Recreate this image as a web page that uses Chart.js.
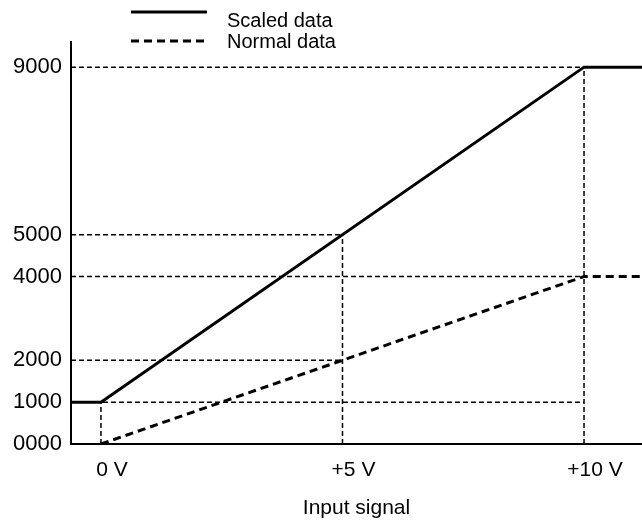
<!DOCTYPE html>
<html>
<head>
<meta charset="utf-8">
<title>Scaled data vs normal data</title>
<script src="https://cdn.jsdelivr.net/npm/chart.js@4"></script>
<style>
  html, body { margin: 0; padding: 0; background: #fff; }
  #wrap { width: 642px; height: 523px; }
</style>
</head>
<body>
<div id="wrap"><canvas id="scalingChart"></canvas></div>
<script>
// Axis ranges (input signal in V, converted value)
const xRange = [-0.62, 11.2];
const yRange = [0, 9600];

// Tick positions and labels
const xTicks = [0, 5, 10];
const xTickLabels = ['0 V', '+5 V', '+10 V'];
const yTicks = [0, 1000, 2000, 4000, 5000, 9000];
const yTickLabels = ['0000', '1000', '2000', '4000', '5000', '9000'];

// Series
const seriesNames = ['Scaled data', 'Normal data'];
const scaledX = [-0.62, 0, 10, 11.2];
const scaledY = [1000, 1000, 9000, 9000];
const normalX = [0, 10, 11.2];
const normalY = [0, 4000, 4000];

// Thin dashed helper lines
// horizontal: value level -> voltage where it stops
const hGuideLevels = [1000, 2000, 4000, 5000, 9000];
const hGuideEnds = [10, 5, 10, 5, 10];
// vertical: voltage -> value where it stops
const vGuideVolts = [0, 5, 10];
const vGuideTops = [1000, 5000, 9000];

const FONT = '"Liberation Sans", Arial, Helvetica, sans-serif';

document.addEventListener('DOMContentLoaded', function() {
    initChart();
});

function zip(xs, ys) {
    return xs.map((x, i) => ({ x: x, y: ys[i] }));
}

function buildGuides() {
    const guides = [];
    hGuideLevels.forEach((level, i) => {
        guides.push(zip([xRange[0], hGuideEnds[i]], [level, level]));
    });
    vGuideVolts.forEach((v, i) => {
        guides.push(zip([v, v], [yRange[0], vGuideTops[i]]));
    });
    return guides.map(pts => ({
        data: pts,
        borderColor: '#000',
        borderWidth: 1.5,
        borderDash: [5, 3],
        pointRadius: 0,
        order: 1
    }));
}

// Legend drawn above the plot, line sample + label
const legendPlugin = {
    id: 'topLegend',
    afterDraw(chart) {
        const ctx = chart.ctx;
        const rows = [
            { y: 12, dash: [], text: seriesNames[0] },
            { y: 41, dash: [8, 5], text: seriesNames[1] }
        ];
        ctx.save();
        rows.forEach(row => {
            ctx.beginPath();
            ctx.setLineDash(row.dash);
            ctx.lineWidth = 3;
            ctx.strokeStyle = '#000';
            ctx.moveTo(131, row.y);
            ctx.lineTo(207, row.y);
            ctx.stroke();
        });
        ctx.setLineDash([]);
        ctx.fillStyle = '#000';
        ctx.font = '20px ' + FONT;
        ctx.textBaseline = 'alphabetic';
        ctx.fillText(seriesNames[0], 227, 27);
        ctx.fillText(seriesNames[1], 227, 48);
        ctx.restore();
    }
};

function initChart() {
    const ctx = document.getElementById('scalingChart');

    const datasets = [
        {
            label: seriesNames[0],
            data: zip(scaledX, scaledY),
            borderColor: '#000',
            borderWidth: 3,
            pointRadius: 0,
            order: 0
        },
        {
            label: seriesNames[1],
            data: zip(normalX, normalY),
            borderColor: '#000',
            borderWidth: 3,
            borderDash: [8, 5],
            pointRadius: 0,
            order: 0
        }
    ].concat(buildGuides());

    new Chart(ctx, {
        type: 'line',
        data: { datasets: datasets },
        options: {
            responsive: true,
            maintainAspectRatio: false,
            animation: false,
            layout: { padding: { top: 42, left: 0, right: 0, bottom: 0 } },
            plugins: {
                legend: { display: false },
                tooltip: { enabled: false }
            },
            scales: {
                x: {
                    type: 'linear',
                    min: xRange[0],
                    max: xRange[1],
                    grid: { display: false, drawTicks: false },
                    border: { display: true, color: '#000', width: 2 },
                    afterBuildTicks: axis => { axis.ticks = xTicks.map(v => ({ value: v })); },
                    afterFit: axis => { axis.height = 79; },
                    ticks: {
                        color: '#000',
                        font: { family: FONT, size: 21 },
                        padding: 14,
                        labelOffset: 11,
                        maxRotation: 0,
                        callback: value => xTickLabels[xTicks.indexOf(value)]
                    },
                    title: {
                        display: true,
                        text: 'Input signal',
                        color: '#000',
                        font: { family: FONT, size: 21 },
                        padding: { top: 0, bottom: 2 }
                    }
                },
                y: {
                    type: 'linear',
                    min: yRange[0],
                    max: yRange[1],
                    grid: { display: false, drawTicks: false },
                    border: { display: true, color: '#000', width: 2 },
                    afterBuildTicks: axis => { axis.ticks = yTicks.map(v => ({ value: v })); },
                    afterFit: axis => { axis.width = 71; },
                    ticks: {
                        color: '#000',
                        font: { family: FONT, size: 22 },
                        padding: 9,
                        callback: value => yTickLabels[yTicks.indexOf(value)]
                    }
                }
            }
        },
        plugins: [legendPlugin]
    });
}
</script>
</body>
</html>
